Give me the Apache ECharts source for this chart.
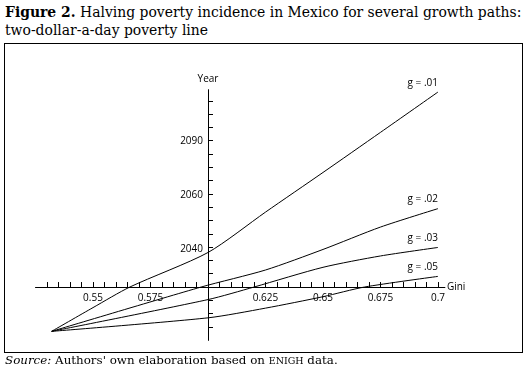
<!DOCTYPE html>
<html>
<head>
<meta charset="utf-8">
<script src="https://cdn.jsdelivr.net/npm/echarts@6/dist/echarts.min.js"></script>
<style>
  html, body { margin: 0; padding: 0; background: #fff; }
  #wrap { position: relative; width: 528px; height: 369px; overflow: hidden; }
  .serif { font-family: "DejaVu Serif", serif; color: #000; white-space: nowrap; }
  #title { position: absolute; left: 5px; top: 3px; font-size: 15px; line-height: 18px; }
  #box { position: absolute; left: 4px; top: 43px; width: 517px; height: 308px; border: 1px solid #000; }
  #chart { position: absolute; left: 0; top: 0; width: 528px; height: 369px; }
  #source { position: absolute; left: 5px; top: 353px; font-size: 12px; line-height: 14px; }
</style>
</head>
<body>
<div id="wrap">
  <div id="title" class="serif"><span id="t1"><b>Figure 2.</b> Halving poverty incidence in Mexico for several growth paths:</span><br>two-dollar-a-day poverty line</div>
  <div id="box"></div>
  <div id="chart"></div>
  <div id="source" class="serif"><span id="s1"><i>Source:</i> Authors' own elaboration based on <span style="font-size:80%">ENIGH</span> data.</span></div>
</div>
<script>
// Gini and year (poverty halved) read along each growth path
const gini01 = [0.532, 0.55, 0.566, 0.6, 0.625, 0.65, 0.675, 0.7];
const year01 = [2021.5, 2025.7, 2030.0, 2038.9, 2052.7, 2071.0, 2096.0, 2130.0];
const gini02 = [0.532, 0.597, 0.625, 0.65, 0.675, 0.7];
const year02 = [2021.5, 2030.0, 2034.1, 2039.8, 2047.1, 2054.1];
const gini03 = [0.532, 0.6, 0.62, 0.65, 0.675, 0.7];
const year03 = [2021.5, 2027.3, 2030.0, 2034.8, 2037.9, 2040.4];
const gini05 = [0.532, 0.6, 0.625, 0.65, 0.668, 0.7];
const year05 = [2021.5, 2023.8, 2025.6, 2027.9, 2030.0, 2032.5];
const seriesNames = ['g = .01', 'g = .02', 'g = .03', 'g = .05'];

const xTickLabels = [0.55, 0.575, 0.625, 0.65, 0.675, 0.7];
const yTickLabels = [2040, 2060, 2090];

// make the title and source lines as wide as in the print
function fitWidth(el, target, box) {
    const w = el.getBoundingClientRect().width;
    const fs = parseFloat(getComputedStyle(box).fontSize);
    box.style.fontSize = (fs * target / w) + 'px';
}
fitWidth(document.getElementById('t1'), 517, document.getElementById('title'));
fitWidth(document.getElementById('s1'), 333, document.getElementById('source'));

// axes cross at Gini 0.6 and year 2030
const xCross = 0.6, yearCross = 2030;
const xMin = 0.525, xMax = 0.703;

// year axis is logarithmic in years counted from 2000
const baseYear = 2000;
const toAxis = y => Math.log(y - baseYear);
const yCross = toAxis(yearCross);
const yMin = 3.0, yMax = 4.885;

const grid = { left: 35.5, top: 89.7, width: 409.4, height: 250.7 };
// pixel shift that moves each axis from the grid edge to the crossing point
const xAxisShift = grid.height * (yCross - yMin) / (yMax - yMin);
const yAxisShift = grid.width * (xCross - xMin) / (xMax - xMin);

let xTicks = [];
for (let i = 0; i <= 34; i++) xTicks.push(+(0.53 + i * 0.005).toFixed(3));
let yTicks = [];
for (let k = -3; k <= 14; k++) yTicks.push(yCross + k * 0.1);

const font = '"Open Sans", sans-serif';
const chart = echarts.init(document.getElementById('chart'));

const paths = [[gini01, year01], [gini02, year02], [gini03, year03], [gini05, year05]];
const lines = paths.map((p, i) => ({
    name: seriesNames[i],
    type: 'line',
    showSymbol: false,
    smooth: 0.25,
    clip: false,
    lineStyle: { color: '#000', width: 1 },
    endLabel: {
        show: true,
        formatter: seriesNames[i],
        align: 'right',
        verticalAlign: 'bottom',
        distance: 0,
        offset: [0, -4],
        color: '#000',
        fontFamily: font,
        fontSize: 10
    },
    data: p[0].map((g, j) => [g, toAxis(p[1][j])])
}));

chart.setOption({
    animation: false,
    grid: Object.assign({ containLabel: false, outerBoundsMode: 'none' }, grid),
    xAxis: {
        type: 'value',
        min: xMin, max: xMax,
        position: 'bottom',
        offset: -xAxisShift,
        name: 'Gini',
        nameLocation: 'end',
        nameGap: 2,
        nameTextStyle: { color: '#000', fontFamily: font, fontSize: 10, verticalAlign: 'middle' },
        axisLine: { onZero: false, lineStyle: { color: '#000', width: 1 } },
        axisTick: { inside: true, length: 5, customValues: xTicks, lineStyle: { color: '#000' } },
        axisLabel: { customValues: xTickLabels, margin: 6, color: '#000', fontFamily: font, fontSize: 10,
            formatter: v => String(+v.toFixed(3)) },
        splitLine: { show: false }
    },
    yAxis: {
        type: 'value',
        min: yMin, max: yMax,
        position: 'left',
        offset: -yAxisShift,
        name: 'Year',
        nameLocation: 'end',
        nameGap: 6,
        nameTextStyle: { color: '#000', fontFamily: font, fontSize: 10, align: 'center' },
        axisLine: { onZero: false, lineStyle: { color: '#000', width: 1 } },
        axisTick: { inside: true, length: 5, customValues: yTicks, lineStyle: { color: '#000' } },
        axisLabel: { customValues: yTickLabels.map(toAxis), margin: 5, color: '#000', fontFamily: font, fontSize: 10,
            formatter: v => String(Math.round(baseYear + Math.exp(v))) },
        splitLine: { show: false }
    },
    series: lines
});
</script>
</body>
</html>
